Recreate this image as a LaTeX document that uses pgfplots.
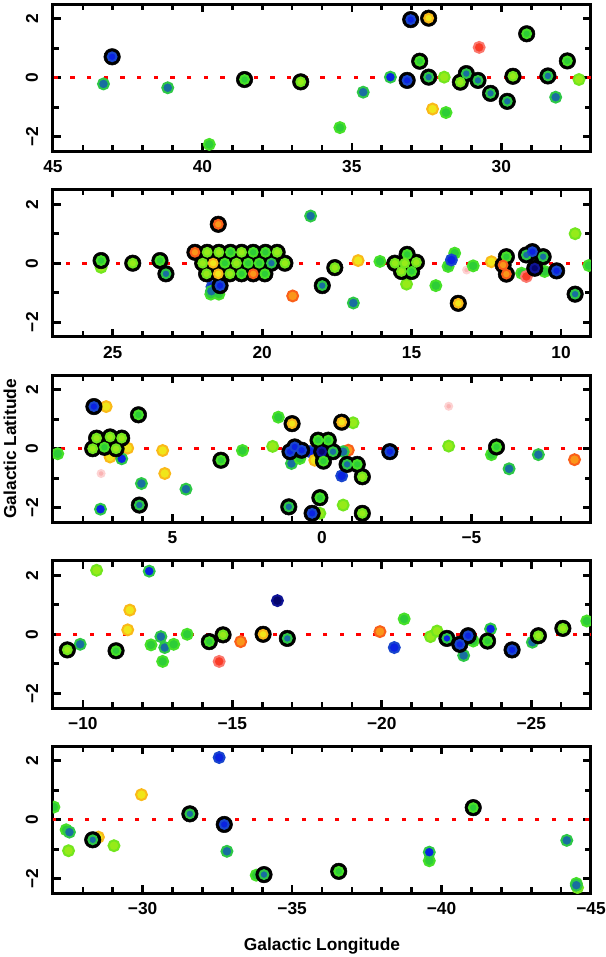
\documentclass[border=0pt]{standalone}
\usepackage{pgfplots}
\pgfplotsset{compat=1.18}
\usepackage{pgfplotstable}
\usepackage{fontspec}
\setmainfont{Liberation Sans}

% dot colours: fill (c*) and soft edge (e*)
\definecolor{cB}{RGB}{10,35,225}   \definecolor{eB}{RGB}{25,70,205}
\definecolor{cN}{RGB}{5,5,110}     \definecolor{eN}{RGB}{15,20,150}
\definecolor{cT}{RGB}{25,110,160}  \definecolor{eT}{RGB}{45,200,70}
\definecolor{cG}{RGB}{45,205,55}   \definecolor{eG}{RGB}{70,225,40}
\definecolor{cL}{RGB}{150,235,25}  \definecolor{eL}{RGB}{115,230,30}
\definecolor{cY}{RGB}{240,230,25}  \definecolor{eY}{RGB}{250,185,25}
\definecolor{cO}{RGB}{250,150,25}  \definecolor{eO}{RGB}{250,95,25}
\definecolor{cR}{RGB}{250,60,40}   \definecolor{eR}{RGB}{250,120,110}
\definecolor{cP}{RGB}{250,180,180} \definecolor{eP}{RGB}{253,210,210}

\pgfplotsset{
  panel/.style={
    width=403.5pt, height=110.6pt, scale only axis,
    anchor=north west, x dir=reverse,
    ymin=-2.5, ymax=2.5,
    ytick={-2,0,2}, yticklabels={−2,0,2}, minor ytick={-1,1},
    tick pos=both, tick align=inside,
    xticklabel pos=lower, yticklabel pos=left,
    axis line style={line width=2.25pt},
    every tick/.style={black,line width=2pt},
    major tick length=6pt, minor tick length=4.5pt,
    tick label style={font=\fontsize{13}{13}\selectfont\bfseries},
    yticklabel style={xshift=-15.75pt, rotate=90, anchor=center},
    xticklabel style={anchor=center, yshift=-11.6pt},
    clip marker paths=true,
  },
  % #1 = radius of the coloured dot
  dots/.style={
    scatter, only marks, mark=*, scatter src=explicit symbolic,
    scatter/classes={
      B={mark=*,mark size=#1,fill=cB,draw=eB,line width=1.5pt},
      U={mark=*,mark size=#1,fill=cB,draw=eT,line width=1.5pt},
      N={mark=*,mark size=#1,fill=cN,draw=eN,line width=1.5pt},
      T={mark=*,mark size=#1,fill=cT,draw=eT,line width=1.5pt},
      G={mark=*,mark size=#1,fill=cG,draw=eG,line width=1.5pt},
      L={mark=*,mark size=#1,fill=cL,draw=eL,line width=1.5pt},
      Y={mark=*,mark size=#1,fill=cY,draw=eY,line width=1.5pt},
      O={mark=*,mark size=#1,fill=cO,draw=eO,line width=1.5pt},
      R={mark=*,mark size=#1,fill=cR,draw=eR,line width=1.5pt},
      P={mark=*,mark size=2.6pt,fill=cP,draw=eP,line width=1.5pt}},
  },
  rings/.style={only marks, mark=*, mark size=6.2pt, mark options={fill=black,draw=none}},
  zero/.style={red, line width=2.1pt, dash pattern=on 3.3pt off 9.2pt},
}

% ---------- panel 1: l = 45 .. 27
\pgfplotstableread{
x y c
43.31 -0.21 T
41.16 -0.34 T
39.77 -2.26 G
35.40 -1.69 G
34.62 -0.49 T
33.71 0.02 U
32.30 -1.06 Y
31.91 0.02 L
31.85 -1.18 G
30.74 1.03 R
28.18 -0.66 T
27.40 -0.06 L
}\pAplain
\pgfplotstableread{
x y c
43.02 0.71 B
38.59 -0.06 G
36.71 -0.14 L
33.15 -0.09 B
33.03 1.97 B
32.73 0.56 G
32.43 2.02 Y
32.43 0.02 T
31.37 -0.15 L
31.17 0.14 T
30.78 -0.09 T
30.36 -0.53 T
29.80 -0.80 T
29.61 0.05 L
29.15 1.49 G
28.44 0.06 T
27.79 0.57 G
}\pAring

% ---------- panel 2: l = 27 .. 9
\pgfplotstableread{
x y c
25.39 -0.14 L
21.68 -0.80 B
21.72 -1.05 G
21.45 -1.05 G
21.70 -0.95 T
18.98 -1.11 O
18.38 1.60 T
16.95 -1.35 T
16.79 0.09 Y
16.06 0.06 G
15.17 -0.71 L
14.19 -0.76 G
13.78 -0.11 G
13.56 0.34 G
13.67 0.11 B
13.16 -0.23 P
12.94 -0.09 G
12.33 0.05 Y
11.32 -0.34 G
11.16 -0.45 R
10.55 -0.28 G
9.53 1.00 L
9.07 -0.08 G
}\pBplain
\pgfplotstableread{
x y c
25.39 0.09 G
24.33 0.00 L
23.42 0.09 G
23.22 -0.36 T
22.25 0.37 O
21.84 0.37 L
21.45 0.37 L
21.06 0.37 G
20.69 0.37 L
20.30 0.37 G
19.89 0.37 G
19.50 0.37 L
21.99 0.00 L
21.64 0.00 Y
21.25 0.00 G
20.86 0.00 L
20.47 0.00 G
20.10 0.00 G
19.69 0.00 T
19.24 0.00 L
21.86 -0.36 L
21.47 -0.36 Y
21.08 -0.36 L
20.69 -0.36 G
20.30 -0.36 O
19.91 -0.36 G
21.47 1.32 O
21.41 -0.76 B
17.99 -0.76 T
17.57 -0.15 L
15.56 0.00 L
15.15 0.30 G
14.84 0.03 L
15.34 -0.28 L
15.00 -0.28 G
15.23 0.00 L
13.44 -1.36 Y
11.83 0.22 G
11.94 -0.06 O
11.83 -0.37 O
11.16 0.28 T
10.96 0.39 B
10.60 0.22 T
10.88 -0.17 N
10.15 -0.26 B
9.53 -1.05 T
}\pBring

% ---------- panel 3: l = 9 .. -9
\pgfplotstableread{
x y c
8.84 -0.17 G
7.22 1.43 Y
6.50 0.02 Y
7.09 -0.28 Y
6.70 -0.34 U
7.39 -0.84 P
6.04 -1.18 T
7.41 -2.05 U
5.33 -0.06 Y
5.26 -0.84 Y
4.55 -1.37 T
2.66 -0.06 G
1.65 0.08 L
1.46 1.07 G
1.02 -0.50 T
0.74 -0.33 G
-1.04 0.88 L
0.40 -0.10 B
0.24 -0.39 Y
0.20 0.25 Y
-0.88 -0.05 O
-0.71 -0.10 T
-0.66 -0.92 B
-0.71 -1.91 L
0.07 -2.19 L
-4.24 0.09 L
-4.24 1.44 P
-5.67 -0.20 G
-6.26 -0.68 T
-7.24 -0.20 T
-8.45 -0.37 O
}\pCplain
\pgfplotstableread{
x y c
7.63 1.43 B
7.54 0.36 L
7.09 0.40 L
6.70 0.36 L
7.67 0.00 L
7.28 0.05 G
6.89 0.00 L
6.14 1.15 G
6.11 -1.91 T
3.38 -0.39 G
1.00 0.85 Y
1.07 -0.10 B
0.91 0.06 B
0.68 -0.05 B
-0.66 0.90 Y
0.13 0.29 G
-0.21 0.29 G
0.01 -0.10 N
-0.37 -0.10 T
-0.05 -0.42 G
-0.84 -0.53 T
-1.18 -0.53 G
-1.35 -0.95 L
-2.27 -0.10 B
0.07 -1.66 G
1.11 -1.97 T
0.33 -2.19 B
-1.35 -2.19 L
-5.84 0.06 G
}\pCring

% ---------- panel 4: l = -9 .. -27
\pgfplotstableread{
x y c
-9.91 -0.34 T
-10.46 2.17 L
-11.57 0.82 Y
-11.50 0.15 Y
-12.22 2.14 U
-12.28 -0.36 G
-12.61 -0.08 T
-12.67 -0.92 G
-12.74 -0.45 T
-13.04 -0.34 G
-13.49 0.00 G
-14.56 -0.92 R
-15.28 -0.25 O
-16.51 1.14 N
-19.94 0.09 O
-20.42 -0.45 B
-20.75 0.52 G
-21.63 -0.08 L
-21.85 0.11 L
-23.06 -0.23 G
-22.74 -0.72 T
-23.64 0.18 U
-25.04 -0.27 T
-26.86 0.45 G
}\pDplain
\pgfplotstableread{
x y c
-9.48 -0.53 L
-11.11 -0.56 G
-14.23 -0.25 G
-14.69 -0.02 L
-16.03 0.00 Y
-16.84 -0.14 T
-22.18 -0.14 U
-22.61 -0.34 B
-22.89 -0.05 B
-23.54 -0.23 G
-24.36 -0.53 B
-25.24 -0.05 L
-26.06 0.20 L
}\pDring

% ---------- panel 5: l = -27 .. -45
\pgfplotstableread{
x y c
-27.03 0.43 G
-27.44 -0.34 G
-27.55 -0.42 T
-27.52 -1.05 L
-28.52 -0.59 Y
-29.04 -0.88 L
-29.96 0.85 Y
-32.56 2.11 B
-32.82 -1.07 T
-33.80 -1.88 G
-39.59 -1.39 G
-39.59 -1.10 U
-44.19 -0.70 T
-44.51 -2.16 G
-44.55 -2.30 L
-44.51 -2.22 T
}\pEplain
\pgfplotstableread{
x y c
-28.33 -0.68 T
-31.58 0.20 T
-32.73 -0.16 B
-34.06 -1.86 T
-36.56 -1.75 G
-41.06 0.41 G
}\pEring

\newcommand\panelbody[2]{%
  \addplot[zero] coordinates {(-60,0) (60,0)};
  \addplot[dots=4.1pt] table[x=x,y=y,meta=c] {#1};
  \addplot[rings] table[x=x,y=y] {#2};
  \addplot[dots=3.3pt] table[x=x,y=y,meta=c] {#2};
}

\begin{document}
\begin{tikzpicture}
\path[use as bounding box] (-39.75pt,3pt) rectangle (414.75pt,-714.75pt);

\begin{axis}[panel, at={(0pt,0pt)}, xmin=27, xmax=45,
  xtick={30,35,40,45}, xticklabels={30,35,40,45}, minor xtick={27,28,...,45}]
\panelbody{\pAplain}{\pAring}
\end{axis}

\begin{axis}[panel, at={(0pt,-139.1pt)}, xmin=9, xmax=27,
  xtick={10,15,20,25}, xticklabels={10,15,20,25}, minor xtick={9,10,...,27}]
\panelbody{\pBplain}{\pBring}
\end{axis}

\begin{axis}[panel, at={(0pt,-278.25pt)}, xmin=-9, xmax=9,
  xtick={-5,0,5}, xticklabels={−5,0,5}, minor xtick={-9,-8,...,9},
  ylabel={Galactic Latitude},
  ylabel style={font=\fontsize{13}{13}\selectfont\bfseries,
    at={([xshift=-32.25pt]axis description cs:0,0.5)}, anchor=center}]
\panelbody{\pCplain}{\pCring}
\end{axis}

\begin{axis}[panel, at={(0pt,-417.4pt)}, xmin=-27, xmax=-9,
  xtick={-25,-20,-15,-10}, xticklabels={−25,−20,−15,−10}, minor xtick={-27,-26,...,-9}]
\panelbody{\pDplain}{\pDring}
\end{axis}

\begin{axis}[panel, at={(0pt,-556.5pt)}, xmin=-45, xmax=-27,
  xtick={-45,-40,-35,-30}, xticklabels={−45,−40,−35,−30}, minor xtick={-45,-44,...,-27},
  xlabel={Galactic Longitude},
  xlabel style={font=\fontsize{13}{13}\selectfont\bfseries,
    at={([yshift=-39.75pt]axis description cs:0.5,0)}, anchor=center}]
\panelbody{\pEplain}{\pEring}
\end{axis}
\end{tikzpicture}
\end{document}
